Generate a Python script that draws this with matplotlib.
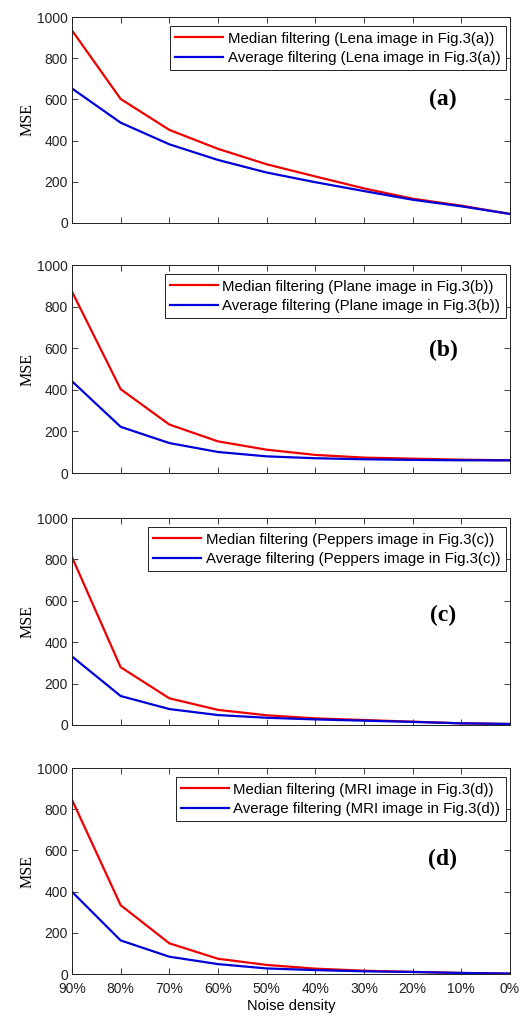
import matplotlib
matplotlib.use("Agg")
import matplotlib.pyplot as plt
from matplotlib.ticker import FuncFormatter

# noise density (%) on the x axis, shown from 90% down to 0%
noise = [90, 80, 70, 60, 50, 40, 30, 20, 10, 0]

# MSE values
lena_median = [935, 602, 452, 360, 285, 226, 168, 118, 84, 44]
lena_average = [653, 487, 382, 306, 245, 198, 155, 113, 81, 44]
plane_median = [872, 403, 233, 152, 112, 87, 74, 69, 64, 61]
plane_average = [441, 222, 144, 101, 80, 71, 66, 63, 61, 61]
peppers_median = [811, 279, 129, 73, 47, 32, 24, 16, 8, 5]
peppers_average = [331, 140, 77, 48, 35, 27, 21, 15, 8, 5]
mri_median = [846, 334, 149, 74, 44, 26, 16, 10, 5, 2]
mri_average = [399, 163, 84, 48, 27, 19, 13, 10, 5, 2]

images = ["Lena", "Plane", "Peppers", "MRI"]
tags = ["a", "b", "c", "d"]
medians = [lena_median, plane_median, peppers_median, mri_median]
averages = [lena_average, plane_average, peppers_average, mri_average]
yticks = [0, 200, 400, 600, 800, 1000]

red = "#ee0000"
blue = "#0000d8"
sans = "Liberation Sans"
serif = "Liberation Serif"

fig = plt.figure(figsize=(5.2, 10.16), dpi=100)
W, H = 520.0, 1016.0
# pixel boxes of each panel: (top, bottom)
boxes = [(17, 223), (265, 473), (518, 725), (768, 974)]
tag_y = [0.60, 0.59, 0.53, 0.555]

for i, (top, bot) in enumerate(boxes):
    ax = fig.add_axes([72 / W, 1 - bot / H, 438 / W, (bot - top) / H])
    ax.plot(noise, medians[i], color=red, linewidth=1.6,
            label="Median filtering (%s image in Fig.3(%s))" % (images[i], tags[i]))
    ax.plot(noise, averages[i], color=blue, linewidth=1.6,
            label="Average filtering (%s image in Fig.3(%s))" % (images[i], tags[i]))

    ax.set_xlim(90, 0)
    ax.set_ylim(0, 1000)
    ax.set_xticks(noise)
    ax.set_yticks(yticks)
    ax.tick_params(direction="in", length=4, width=0.6, top=True, right=True,
                   labelsize=10, colors="#222222", pad=3)
    ax.tick_params(axis="x", pad=6)
    for lab in ax.get_xticklabels() + ax.get_yticklabels():
        lab.set_fontfamily(sans)
    for sp in ax.spines.values():
        sp.set_linewidth(0.7)
        sp.set_color("#222222")

    if i == len(boxes) - 1:
        ax.xaxis.set_major_formatter(FuncFormatter(lambda v, p: "%d%%" % v))
        ax.set_xlabel("Noise density", fontfamily=sans, fontsize=10.5, labelpad=2)
    else:
        ax.set_xticklabels([])

    ax.set_ylabel("MSE", fontfamily=serif, fontsize=11.5, labelpad=1)

    ax.text(0.847, tag_y[i], "(%s)" % tags[i], transform=ax.transAxes,
            ha="center", va="center", fontfamily=serif, fontweight="bold",
            fontsize=17)

    leg = ax.legend(loc="upper right", bbox_to_anchor=(0.99, 0.955),
                    borderaxespad=0, fancybox=False, framealpha=1,
                    edgecolor="#222222", handlelength=3.2, handletextpad=0.3,
                    labelspacing=0.35, borderpad=0.35,
                    prop={"family": sans, "size": 10.8})
    leg.get_frame().set_linewidth(0.7)

fig.savefig("out.png", dpi=100)
